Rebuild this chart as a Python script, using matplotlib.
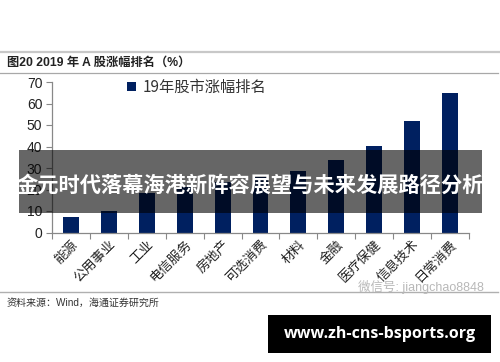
import matplotlib
matplotlib.use("Agg")
import matplotlib.pyplot as plt
from matplotlib.patches import Rectangle
from matplotlib.lines import Line2D

plt.rcParams['font.family'] = ['Liberation Sans', 'Noto Sans CJK SC', 'DejaVu Sans']

# data (bars hidden under the banner are estimated)
sectors = ['能源', '公用事业', '工业', '电信服务', '房地产', '可选消费',
           '材料', '金融', '医疗保健', '信息技术', '日常消费']
gains = [7.4, 9.8, 18.5, 21.0, 23.5, 26.0, 28.5, 33.9, 40.1, 51.8, 65.0]
y_ticks = [0, 10, 20, 30, 40, 50, 60, 70]
legend_label = '19年股市涨幅排名'
fig_title = '图20 2019 年 A 股涨幅排名（%）'
source_text = '资料来源：Wind，海通证券研究所'
banner_text = '金元时代落幕海港新阵容展望与未来发展路径分析'
site_text = 'www.zh-cns-bsports.org'
mark_text = '微信号: jiangchao8848'

W, H = 500, 362
cjk = ['Noto Sans CJK SC', 'DejaVu Sans']


def fx(px):
    return px / W


def fy(py):
    return 1 - py / H


fig = plt.figure(figsize=(W / 100, H / 100), dpi=100)
fig.patch.set_facecolor('white')

# main chart
ax = fig.add_axes([fx(52), fy(232.5), fx(469) - fx(52), fy(82) - fy(232.5)])
x = list(range(len(sectors)))
ax.bar(x, gains, width=0.42, color='#002060', label=legend_label, zorder=2)
ax.set_xlim(-0.5, len(sectors) - 0.5)
ax.set_ylim(0, 70)
ax.set_yticks(y_ticks)
ax.set_yticklabels([str(v) for v in y_ticks], fontsize=10, color='#222222')
ax.set_xticks([i - 0.5 for i in range(len(sectors) + 1)])
ax.set_xticklabels([])
ax.set_xticks(x, minor=True)
ax.set_xticklabels(sectors, minor=True, rotation=45, ha='right', va='top',
                   rotation_mode='anchor', fontsize=9.5, family=cjk, color='#222222')
ax.tick_params(axis='x', which='minor', length=0, pad=4)
ax.tick_params(axis='x', which='major', length=4, color='#888888', direction='out')
ax.tick_params(axis='y', length=4, color='#888888', direction='out', pad=3)
for s in ['top', 'right']:
    ax.spines[s].set_visible(False)
for s in ['left', 'bottom']:
    ax.spines[s].set_color('#888888')
    ax.spines[s].set_linewidth(0.9)
leg = ax.legend(loc='upper left', bbox_to_anchor=(0.18, 1.02), frameon=False,
                borderaxespad=0, borderpad=0,
                handlelength=0.6, handleheight=0.6, handletextpad=0.4,
                prop={'family': cjk, 'size': 11})
for t in leg.get_texts():
    t.set_color('#333333')

# header / footer lines
fig.add_artist(Line2D([0, 1], [fy(52), fy(52)], color='#c8c8c8', lw=1.6))
fig.add_artist(Line2D([0, fx(498)], [fy(73), fy(73)], color='#a8a8a8', lw=0.9))
fig.add_artist(Line2D([0, fx(498)], [fy(292), fy(292)], color='#b0b0b0', lw=1.0))

fig.text(fx(7), fy(63), fig_title, fontsize=8.8, fontweight='bold',
         family=['Liberation Sans', 'Noto Sans CJK SC'], va='center', color='#222222')
fig.text(fx(7), fy(303), source_text, fontsize=7.2, family=['Liberation Sans', 'Noto Sans CJK SC'],
         va='center', color='#333333')
fig.text(fx(484), fy(287), mark_text, fontsize=9, family=['Liberation Sans', 'Noto Sans CJK SC'],
         ha='right', va='center', color='#b8b8b8')

# dark banner over the chart
fig.add_artist(Rectangle((fx(19), fy(212.5)), fx(482) - fx(19), fy(150) - fy(212.5),
                         transform=fig.transFigure, facecolor='black', alpha=0.6,
                         edgecolor='none', zorder=10))
fig.text(fx(250), fy(185), banner_text, fontsize=15.3, fontweight='bold', family=cjk,
         ha='center', va='center', color='white', zorder=11)

# site box
fig.add_artist(Rectangle((fx(268), fy(353)), fx(491) - fx(268), fy(315) - fy(353),
                         transform=fig.transFigure, facecolor='black',
                         edgecolor='none', zorder=10))
fig.text(fx(379.5), fy(334), site_text, fontsize=11.5, fontweight='bold',
         family=['Open Sans', 'DejaVu Sans'], ha='center', va='center',
         color='white', zorder=11)

fig.savefig('out.png', dpi=100)
